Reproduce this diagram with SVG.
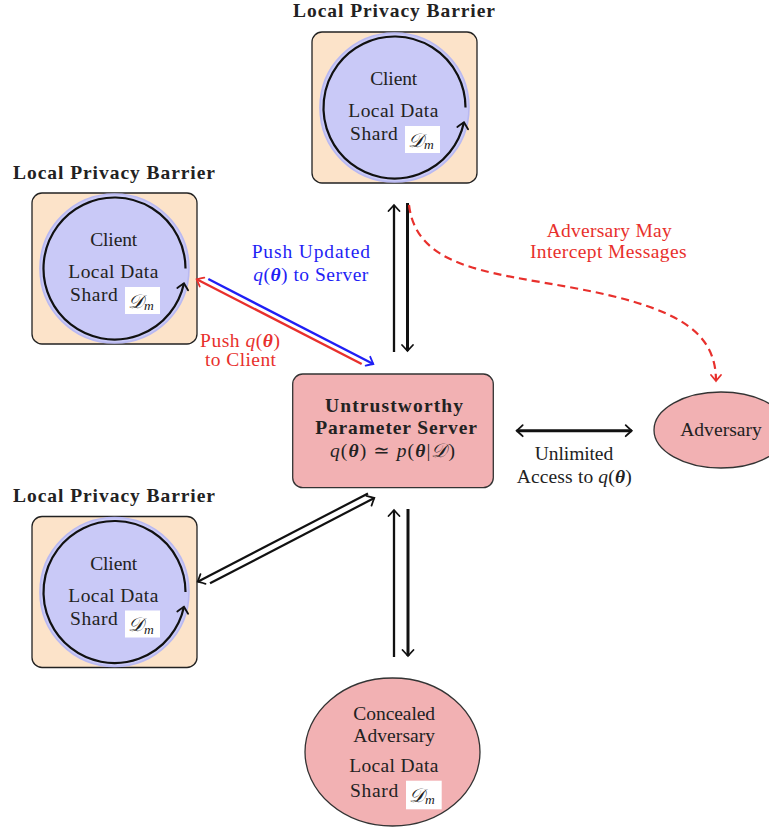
<svg xmlns="http://www.w3.org/2000/svg" width="769" height="827" viewBox="0 0 769 827">
<style>
text{font-family:"Liberation Serif","DejaVu Serif",serif;font-size:19.5px;fill:#222}
.t{font-weight:bold;font-size:19.5px}
.box{fill:#fce3c9;stroke:#222;stroke-width:1.3}
.disc{fill:#c9c9f7;stroke:#b9b9f2;stroke-width:1.6}
.arc{fill:none;stroke:#111;stroke-width:2.2}
.pink{fill:#f2b1b3;stroke:#333;stroke-width:1.3}
.dm{fill:#fff}
.red{fill:#e8302c}
.blue{fill:#1f1ff5}
.k{fill:none;stroke:#111}
.i{font-style:italic}
.bi{font-style:italic;font-weight:bold}
</style>
<defs>
<marker id="ak" markerUnits="userSpaceOnUse" viewBox="-10 -10 20 20" markerWidth="20" markerHeight="20" refX="0" refY="0" orient="auto-start-reverse" overflow="visible">
<path d="M-6,-5.5 Q-1.5,-1.3 0,0 Q-1.5,1.3 -6,5.5" fill="none" stroke="#111" stroke-width="1.8" stroke-linecap="round"/>
</marker>
<marker id="ar" markerUnits="userSpaceOnUse" viewBox="-10 -10 20 20" markerWidth="20" markerHeight="20" refX="0" refY="0" orient="auto" overflow="visible">
<path d="M-6,-5 Q-1.5,-1.2 0,0 Q-1.5,1.2 -6,5" fill="none" stroke="#e8302c" stroke-width="1.8" stroke-linecap="round"/>
</marker>
<marker id="ab" markerUnits="userSpaceOnUse" viewBox="-10 -10 20 20" markerWidth="20" markerHeight="20" refX="0" refY="0" orient="auto" overflow="visible">
<path d="M-6,-5 Q-1.5,-1.2 0,0 Q-1.5,1.2 -6,5" fill="none" stroke="#1f1ff5" stroke-width="1.8" stroke-linecap="round"/>
</marker>
</defs>

<g id="client-top" transform="translate(312,32)">
<text class="t" x="82" y="-14.7" text-anchor="middle" textLength="202">Local Privacy Barrier</text>
<rect class="box" x="0" y="0" width="165" height="151" rx="10"/>
<circle class="disc" cx="82.5" cy="75.5" r="74.5"/>
<path class="arc" d="M153.5,75.5 A71,71 0 1 0 151.95,90.26" marker-end="url(#ak)"/>
<text x="81.7" y="53" text-anchor="middle" textLength="47">Client</text>
<text x="81.3" y="85.3" text-anchor="middle" textLength="90">Local Data</text>
<text x="38" y="108" textLength="47.7">Shard</text>
<rect class="dm" x="93" y="94" width="35" height="27"/>
<text x="96" y="114.5" font-style="italic" font-size="20">𝒟<tspan font-size="13.5" dy="2.5">m</tspan></text>
</g>

<g id="client-left-1" transform="translate(32,193)">
<text class="t" x="82" y="-13.7" text-anchor="middle" textLength="202">Local Privacy Barrier</text>
<rect class="box" x="0" y="0" width="165" height="151" rx="10"/>
<circle class="disc" cx="82.5" cy="75.5" r="74.5"/>
<path class="arc" d="M153.5,75.5 A71,71 0 1 0 151.95,90.26" marker-end="url(#ak)"/>
<text x="81.7" y="53" text-anchor="middle" textLength="47">Client</text>
<text x="81.3" y="85.3" text-anchor="middle" textLength="90">Local Data</text>
<text x="38" y="108" textLength="47.7">Shard</text>
<rect class="dm" x="93" y="94" width="35" height="27"/>
<text x="96" y="114.5" font-style="italic" font-size="20">𝒟<tspan font-size="13.5" dy="2.5">m</tspan></text>
</g>

<g id="client-left-2" transform="translate(32,516.5)">
<text class="t" x="82" y="-14.8" text-anchor="middle" textLength="202">Local Privacy Barrier</text>
<rect class="box" x="0" y="0" width="165" height="151" rx="10"/>
<circle class="disc" cx="82.5" cy="75.5" r="74.5"/>
<path class="arc" d="M153.5,75.5 A71,71 0 1 0 151.95,90.26" marker-end="url(#ak)"/>
<text x="81.7" y="53" text-anchor="middle" textLength="47">Client</text>
<text x="81.3" y="85.3" text-anchor="middle" textLength="90">Local Data</text>
<text x="38" y="108" textLength="47.7">Shard</text>
<rect class="dm" x="93" y="94" width="35" height="27"/>
<text x="96" y="114.5" font-style="italic" font-size="20">𝒟<tspan font-size="13.5" dy="2.5">m</tspan></text>
</g>

<g id="server">
<rect class="pink" x="292.7" y="374" width="200.6" height="113.7" rx="10"/>
<text class="t" x="394" y="412.3" text-anchor="middle" textLength="138">Untrustworthy</text>
<text class="t" x="396" y="434" text-anchor="middle" textLength="161.7">Parameter Server</text>
<text x="392.5" y="456.7" text-anchor="middle" textLength="125"><tspan class="i">q</tspan>(<tspan class="bi">θ</tspan>) ≃ <tspan class="i">p</tspan>(<tspan class="bi">θ</tspan>|<tspan class="i">𝒟</tspan>)</text>
</g>

<g id="adversary">
<ellipse class="pink" cx="721" cy="430" rx="67" ry="38"/>
<text x="721" y="436" text-anchor="middle" textLength="81.7">Adversary</text>
</g>

<g id="concealed-adversary">
<ellipse class="pink" cx="392.5" cy="752" rx="87.5" ry="74"/>
<text x="394.2" y="720" text-anchor="middle" textLength="81.7">Concealed</text>
<text x="394.2" y="741.7" text-anchor="middle" textLength="81.7">Adversary</text>
<text x="393.8" y="771.7" text-anchor="middle" textLength="89">Local Data</text>
<text x="350" y="796.7" textLength="48.3">Shard</text>
<rect class="dm" x="406" y="780.7" width="35.7" height="28.6"/>
<text x="409" y="801.5" font-style="italic" font-size="20">𝒟<tspan font-size="13.5" dy="2.5">m</tspan></text>
</g>

<g id="connectors">
<line class="k" x1="394" y1="352" x2="394" y2="205" stroke-width="2.3" marker-end="url(#ak)"/>
<line class="k" x1="407.5" y1="203" x2="407.5" y2="351" stroke-width="3" marker-end="url(#ak)"/>
<line class="k" x1="394" y1="657" x2="394" y2="510" stroke-width="2.3" marker-end="url(#ak)"/>
<line class="k" x1="408" y1="509" x2="408" y2="656" stroke-width="3" marker-end="url(#ak)"/>
<line class="k" x1="368" y1="493.5" x2="197.7" y2="581.7" stroke-width="2.2" marker-end="url(#ak)"/>
<line class="k" x1="210" y1="583.3" x2="374.3" y2="498" stroke-width="2.2" marker-end="url(#ak)"/>
<line class="k" x1="516.7" y1="430.7" x2="631.7" y2="430.7" stroke-width="3" marker-start="url(#ak)" marker-end="url(#ak)"/>
<line x1="361.7" y1="364" x2="196.7" y2="279.3" stroke="#e8302c" stroke-width="2.4" marker-end="url(#ar)"/>
<line x1="208.3" y1="279" x2="373.3" y2="364" stroke="#1f1ff5" stroke-width="2.4" marker-end="url(#ab)"/>
<path d="M409,205 C418,280 520,272 620,298 C690,316 716,340 716,381" fill="none" stroke="#e8302c" stroke-width="2.2" stroke-dasharray="8 5" marker-end="url(#ar)"/>
<text class="blue" x="310.8" y="258.3" text-anchor="middle" textLength="118.3">Push Updated</text>
<text class="blue" x="310.8" y="281" text-anchor="middle" textLength="115"><tspan class="i">q</tspan>(<tspan class="bi">θ</tspan>) to Server</text>
<text class="red" x="240" y="346.7" text-anchor="middle" textLength="80">Push <tspan class="i">q</tspan>(<tspan class="bi">θ</tspan>)</text>
<text class="red" x="240.5" y="366" text-anchor="middle" textLength="71">to Client</text>
<text class="red" x="609.2" y="236.7" text-anchor="middle" textLength="125">Adversary May</text>
<text class="red" x="608.3" y="258.3" text-anchor="middle" textLength="156.7">Intercept Messages</text>
<text x="574" y="460" text-anchor="middle" textLength="78.3">Unlimited</text>
<text x="574.2" y="482.7" text-anchor="middle" textLength="115"><tspan>Access to </tspan><tspan class="i">q</tspan>(<tspan class="bi">θ</tspan>)</text>
</g>
</svg>
